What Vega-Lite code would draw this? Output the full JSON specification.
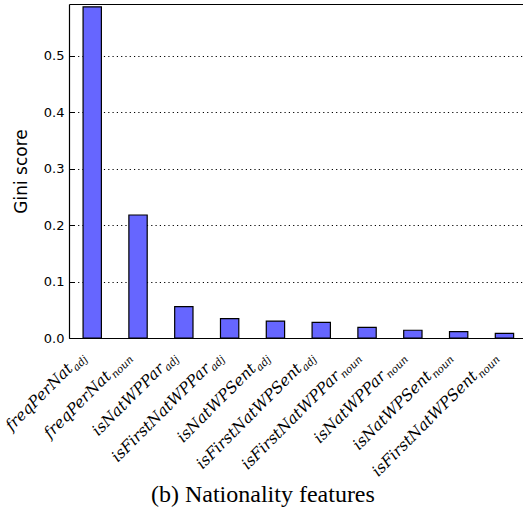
{
  "$schema": "https://vega.github.io/schema/vega-lite/v6.json",
  "width": 454,
  "height": 334,
  "autosize": {"type": "none"},
  "padding": {"left": 69, "top": 4, "right": 0, "bottom": 174},
  "background": "white",
  "config": {
    "view": {"stroke": null},
    "axisX": {
      "title": null,
      "labelAngle": -45,
      "labelAlign": "right",
      "labelBaseline": "alphabetic",
      "labelFont": "DejaVu Serif",
      "labelFontStyle": "italic",
      "labelColor": "black",
      "labelOverlap": false,
      "labelBound": false,
      "labelFlush": false,
      "labelLimit": 0,
      "ticks": false,
      "grid": false,
      "domainColor": "black",
      "domainWidth": 1.2
    }
  },
  "title": {
    "text": "(b) Nationality features",
    "orient": "bottom",
    "anchor": "middle",
    "frame": "bounds",
    "font": "Liberation Serif",
    "fontSize": 24,
    "fontWeight": "normal",
    "color": "black",
    "offset": 4
  },
  "data": {
    "values": [
      {"feature": "freqPerNat_adj", "gini": 0.587},
      {"feature": "freqPerNat_noun", "gini": 0.218},
      {"feature": "isNatWPPar_adj", "gini": 0.0555},
      {"feature": "isFirstNatWPPar_adj", "gini": 0.0342},
      {"feature": "isNatWPSent_adj", "gini": 0.0300},
      {"feature": "isFirstNatWPSent_adj", "gini": 0.0278},
      {"feature": "isFirstNatWPPar_noun", "gini": 0.0190},
      {"feature": "isNatWPPar_noun", "gini": 0.0137},
      {"feature": "isNatWPSent_noun", "gini": 0.0112},
      {"feature": "isFirstNatWPSent_noun", "gini": 0.0083}
    ]
  },
  "resolve": {"scale": {"x": "independent"}, "axis": {"x": "independent"}},
  "layer": [
    {
      "mark": {"type": "bar", "fill": "#6666ff", "stroke": "black", "strokeWidth": 1.2},
      "encoding": {
        "x": {
          "field": "feature",
          "type": "nominal",
          "sort": null,
          "scale": {"paddingInner": 0.6, "paddingOuter": 0.256, "align": 0.6},
          "axis": {
            "orient": "bottom",
            "labelExpr": "split(datum.label, '_')[1] == 'adj' ? split(datum.label, '_')[0] : ''",
            "labelFontSize": 15.5,
            "labelOffset": -18.5,
            "labelPadding": 31,
            "domain": true
          }
        },
        "y": {
          "field": "gini",
          "type": "quantitative",
          "scale": {"domain": [0, 0.592], "nice": false, "zero": true},
          "axis": {
            "title": "Gini score",
            "titleFont": "DejaVu Sans",
            "titleFontSize": 17,
            "titleFontWeight": "normal",
            "titleColor": "black",
            "titlePadding": 13,
            "values": [0, 0.1, 0.2, 0.3, 0.4, 0.5],
            "format": ".1f",
            "labelFont": "DejaVu Sans",
            "labelFontSize": 13,
            "labelColor": "black",
            "labelPadding": 10,
            "tickSize": -5,
            "tickColor": "black",
            "tickWidth": 1,
            "domainColor": "black",
            "domainWidth": 1.2,
            "grid": true,
            "gridColor": "black",
            "gridDash": [1.2, 3.1],
            "gridWidth": 1,
            "gridOpacity": 1
          }
        }
      }
    },
    {
      "mark": {"type": "bar", "opacity": 0},
      "encoding": {
        "x": {
          "field": "feature",
          "type": "nominal",
          "sort": null,
          "scale": {"paddingInner": 0.6, "paddingOuter": 0.256, "align": 0.6},
          "axis": {
            "orient": "bottom",
            "labelExpr": "split(datum.label, '_')[1] == 'noun' ? split(datum.label, '_')[0] : ''",
            "labelFontSize": 15.5,
            "labelOffset": -26,
            "labelPadding": 38.5,
            "domain": false
          }
        }
      }
    },
    {
      "mark": {"type": "bar", "opacity": 0},
      "encoding": {
        "x": {
          "field": "feature",
          "type": "nominal",
          "sort": null,
          "scale": {"paddingInner": 0.6, "paddingOuter": 0.256, "align": 0.6},
          "axis": {
            "orient": "bottom",
            "labelExpr": "split(datum.label, '_')[1]",
            "labelFontSize": 10.5,
            "labelOffset": -4,
            "labelPadding": 21.5,
            "domain": false
          }
        }
      }
    },
    {
      "mark": {"type": "bar", "opacity": 0},
      "encoding": {
        "x": {
          "field": "feature",
          "type": "nominal",
          "sort": null,
          "scale": {"paddingInner": 0.6, "paddingOuter": 0.256, "align": 0.6},
          "axis": {
            "orient": "top",
            "labels": false,
            "domain": true
          }
        }
      }
    }
  ]
}
